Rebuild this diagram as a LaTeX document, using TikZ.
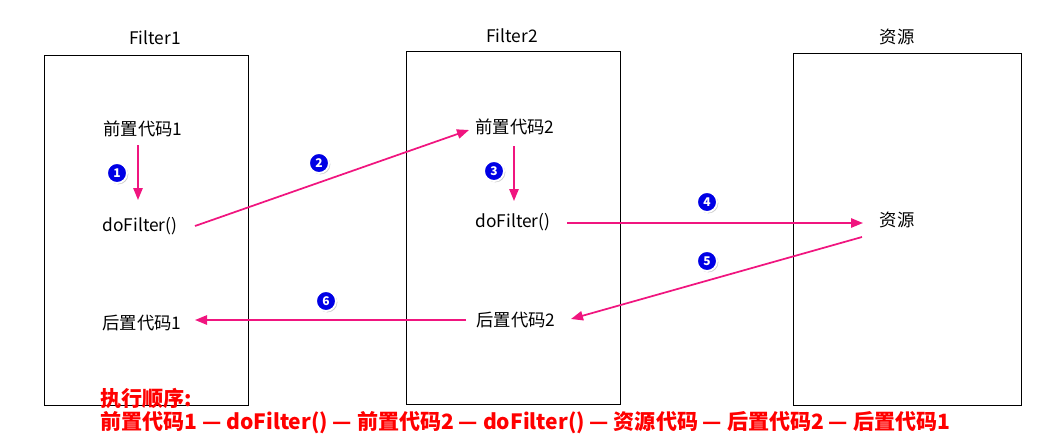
\documentclass[tikz,border=0pt]{standalone}
\usepackage{fontspec}
\setmainfont{Noto Sans CJK SC}
\usetikzlibrary{arrows.meta,shadows}
\definecolor{pk}{HTML}{F0157F}
\begin{document}
\begin{tikzpicture}[x=0.75pt,y=-0.75pt,
  box/.style={draw=black,line width=0.6pt},
  lbl/.style={font=\fontsize{13}{15}\selectfont,inner sep=1pt},
  arr/.style={draw=pk,line width=1.3pt,-{Triangle[length=9pt,width=7pt]}},
  num/.style={circle,fill=blue!90!black,draw=white,line width=1.4pt,text=white,minimum size=15pt,inner sep=0pt,font=\bfseries\fontsize{9}{10}\selectfont,drop shadow={shadow xshift=1pt,shadow yshift=-1pt,opacity=0.4}},
  red/.style={text=red,font=\bfseries\fontsize{15.8}{17}\selectfont,anchor=west,inner sep=0pt}]
\useasboundingbox (0,0) rectangle (1047,447);
\draw[box] (44,55) rectangle (248,405);
\draw[box] (406,51) rectangle (620,404);
\draw[box] (793,53) rectangle (1021,405);
\node[lbl] (t1) at (155,38) {Filter1};
\node[lbl] (t2) at (512,36) {Filter2};
\node[lbl] (t3) at (897,37) {资源};
\node[lbl] (a1) at (143,129) {前置代码1};
\node[lbl] (b1) at (140,226) {doFilter()};
\node[lbl] (c1) at (142,323) {后置代码1};
\node[lbl] (a2) at (515,127) {前置代码2};
\node[lbl] (b2) at (513,222) {doFilter()};
\node[lbl] (c2) at (516,320) {后置代码2};
\node[lbl] (r) at (897,220) {资源};
\draw[arr] (138,145) -- (138,200);
\draw[arr] (195,226) -- (469,130);
\draw[arr] (514,146) -- (514,201);
\draw[arr] (567,223) -- (863,223);
\draw[arr] (862,237) -- (571,319);
\draw[arr] (466,320) -- (195,320);
\node[num] at (117,173) {1};
\node[num] at (319,163) {2};
\node[num] at (494,171) {3};
\node[num] at (707,202) {4};
\node[num] at (707,261) {5};
\node[num] at (326,301) {6};
\node[red] (e1) at (100,398) {执行顺序:};
\node[red] (e2) at (100,423) {前置代码1 — doFilter() — 前置代码2 — doFilter() — 资源代码 — 后置代码2 — 后置代码1};
\end{tikzpicture}
\end{document}
